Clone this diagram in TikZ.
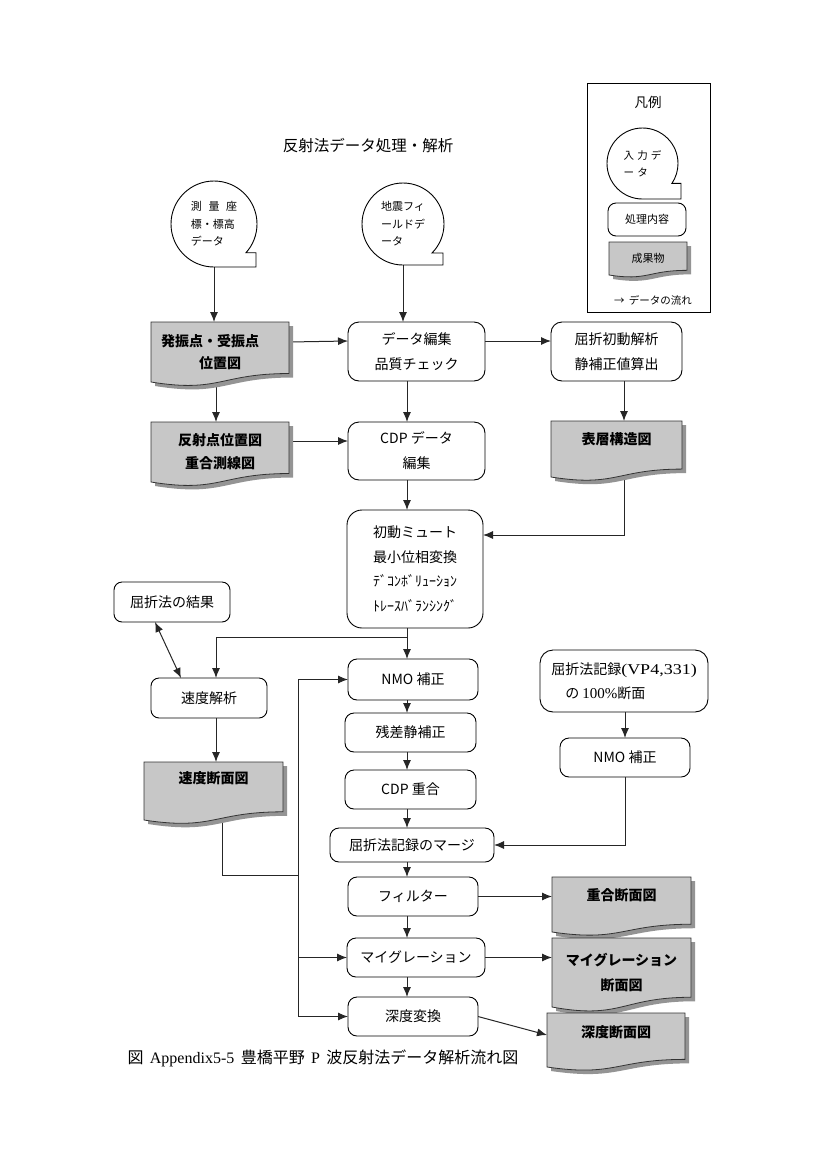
\documentclass[tikz,border=0pt]{standalone}
\usepackage{fontspec}
\usepackage{graphicx}
\setmainfont{Noto Sans CJK JP}
\newfontfamily\serifla{Liberation Serif}
\usetikzlibrary{arrows.meta,calc}
\pgfdeclarelayer{conn}
\pgfdeclarelayer{docs}
\pgfsetlayers{conn,docs,main}
\newcommand\fsz[2]{\fontsize{#1}{#2}\selectfont}
\newcommand\docpath[1]{(#1.north west) -- (#1.north east) -- ($(#1.north east)!0.8587!(#1.south east)$) .. controls ($(#1.north)!0.8587!(#1.south)$) and ($(#1.north)!1.1852!(#1.south)$) .. (#1.south west) -- cycle}
\newcommand\docshape[1]{%
  \fill[docshadow, transform canvas={shift={(4pt,-4pt)}}] \docpath{#1};
  \filldraw[docfill] \docpath{#1};}
% name, radius, angle, tail extension
\newcommand\tape[4]{%
  \draw[shapeline] (#1.south) arc[start angle=270, end angle=-#3, radius=#2pt] -- ++({(#4-#2*cos(#3))*1pt},0) |- (#1.south) -- cycle;}
\begin{document}
\begin{tikzpicture}[x=1pt,y=-1pt,
  shapeline/.style={draw=black, line width=0.9pt},
  proc/.style={draw=black, line width=0.9pt, fill=white, rounded corners=11pt, align=center, inner sep=0pt, outer sep=0pt, font=\fsz{14}{25}},
  docn/.style={align=center, inner sep=0pt, outer sep=0pt, font=\fsz{14}{23}\bfseries},
  docfill/.style={fill=black!22, draw=black!80, line width=0.8pt},
  docshadow/.style={fill=black!42},
  circ/.style={circle, inner sep=0pt, outer sep=0pt, align=left, font=\fsz{11}{17.5}},
  arr/.style={-{Latex[length=10pt,width=8pt]}, line width=1pt, draw=black!85},
  dblarr/.style={{Latex[length=10pt,width=8pt]}-{Latex[length=10pt,width=8pt]}, line width=1pt, draw=black!85},
  plainline/.style={line width=1pt, draw=black!85}]
\begin{pgfonlayer}{conn}
\fill[white] (0,0) rectangle (819,1170);
\end{pgfonlayer}
\useasboundingbox (0,0) rectangle (819,1170);

% title and caption
\node[font=\fsz{15.5}{18}] (title) at (368,146) {反射法データ処理・解析};
\node[font=\fsz{16}{18}] (cap) at (323,1058) {図\hspace{0.4em}{\serifla Appendix5-5}\hspace{0.4em}豊橋平野\hspace{0.4em}{\serifla P}\hspace{0.4em}波反射法データ解析流れ図};

% legend
\node[draw=black, line width=0.8pt, minimum width=123pt, minimum height=229pt, inner sep=0pt] (leg) at (648.5,197.5) {};
\node[font=\fsz{13.5}{16}] (legt) at (648,102) {凡例};
\node[circ, minimum size=71pt, font=\fsz{10.5}{17}] (legin) at (642.5,163.5) {入\hspace{0.3em}力\hspace{0.3em}デ\\ー\hspace{0.3em}タ};
\node[proc, rounded corners=8pt, minimum width=78pt, minimum height=33pt, font=\fsz{11}{14}] (legp) at (647,219.5) {処理内容};
\node[docn, minimum width=78pt, minimum height=33pt, font=\fsz{11}{14}] (legd) at (648,258.5) {成果物};
\node[font=\fsz{10.5}{14}] (legf) at (653,300) {→\hspace{0.4em}データの流れ};

% inputs
\node[circ, minimum size=86pt] (in1) at (214,224) {測\hspace{0.6em}量\hspace{0.6em}座\\標・標高\\データ};
\node[circ, minimum size=82pt] (in2) at (403,224) {地震フィ\\ールドデ\\ータ};

% products
\node[docn, minimum width=138pt, minimum height=60pt, font=\fsz{14}{22}\bfseries] (hs) at (220,352) {発振点・受振点\hspace*{1.4em}\\位置図};
\node[docn, minimum width=138pt, minimum height=60pt] (refl) at (220,452) {反射点位置図\\重合測線図};
\node[docn, minimum width=131pt, minimum height=56pt, text depth=21.7pt] (hyoso) at (616.5,449) {表層構造図};
\node[docn, minimum width=139pt, minimum height=58pt, text depth=27.7pt] (vsec) at (213.5,791) {速度断面図};
\node[docn, minimum width=139pt, minimum height=55pt, text depth=20.7pt] (stsec) at (621.5,904.5) {重合断面図};
\node[docn, minimum width=139pt, minimum height=69pt, font=\fsz{14}{25}\bfseries] (migsec) at (621.5,972.5) {マイグレーション\\断面図};
\node[docn, minimum width=138pt, minimum height=54pt, text depth=17.7pt] (dsec) at (616,1040) {深度断面図};

% processes
\node[proc, minimum width=137pt, minimum height=59pt] (edit) at (416.5,351.5) {データ編集\\品質チェック};
\node[proc, minimum width=131pt, minimum height=59pt] (refr) at (616.5,351.5) {屈折初動解析\\静補正値算出};
\node[proc, minimum width=137pt, minimum height=58pt] (cdp) at (416.5,451) {CDP データ\\編集};
\node[proc, rounded corners=15pt, minimum width=136pt, minimum height=118pt, font=\fsz{14}{24.5}] (mute) at (415,569) {初動ミュート\\最小位相変換\\ﾃﾞｺﾝﾎﾞﾘｭｰｼｮﾝ\\ﾄﾚｰｽﾊﾞﾗﾝｼﾝｸﾞ};
\node[proc, rounded corners=8pt, minimum width=116pt, minimum height=40pt] (kekka) at (172,602) {屈折法の結果};
\node[proc, rounded corners=8pt, minimum width=116pt, minimum height=40pt] (vel) at (209,698) {速度解析};
\node[proc, rounded corners=9pt, minimum width=130pt, minimum height=41pt] (nmo) at (413,679.5) {NMO 補正};
\node[proc, rounded corners=9pt, minimum width=131pt, minimum height=39pt] (resid) at (410.5,732.5) {残差静補正};
\node[proc, rounded corners=9pt, minimum width=131pt, minimum height=39pt] (stack) at (410.5,789.5) {CDP 重合};
\node[proc, rounded corners=9pt, minimum width=164pt, minimum height=34pt] (merge) at (412,845) {屈折法記録のマージ};
\node[proc, rounded corners=9pt, minimum width=130pt, minimum height=39pt] (filt) at (413,896.5) {フィルター};
\node[proc, rounded corners=9pt, minimum width=138pt, minimum height=39pt] (mig) at (416,957.5) {マイグレーション};
\node[proc, rounded corners=9pt, minimum width=130pt, minimum height=39pt] (depth) at (413,1016.5) {深度変換};
\node[proc, rounded corners=13pt, minimum width=168pt, minimum height=62pt, align=left, font=\fsz{14}{24}] (rec) at (624,681) {屈折法記録{\serifla\fontsize{15}{24}\selectfont\scalebox{1.2}[1]{(VP4,331)}}\\\hspace*{1em}の {\serifla\fontsize{15}{24}\selectfont 100\%}断面};
\node[proc, rounded corners=9pt, minimum width=130pt, minimum height=39pt] (nmo2) at (625,757.5) {NMO 補正};

% spine coordinates
\coordinate (lsp) at (216,0);
\coordinate (msp) at (407,0);
\coordinate (rsp) at (624,0);
\coordinate (vx) at (298,0);
\coordinate (br) at ($(mute.south -| msp)+(0,9)$);
\coordinate (jn) at (298,875);

\begin{pgfonlayer}{conn}
\draw[arr] (in1.south) -- (in1.south |- hs.north);
\draw[arr] (in2.south) -- (in2.south |- edit.north);
\draw[arr] ([yshift=10pt]hs.east) -- ([yshift=10.5pt]edit.west);
\draw[arr] ([yshift=10.5pt]edit.east) -- ([yshift=10.5pt]refr.west);
\draw[arr] (hs.south -| lsp) -- (refl.north -| lsp);
\draw[arr] ([yshift=11pt]refl.east) -- ([yshift=10pt]cdp.west);
\draw[arr] (edit.south -| msp) -- (cdp.north -| msp);
\draw[arr] (refr.south -| rsp) -- (hyoso.north -| rsp);
\draw[arr] (hyoso.south -| rsp) |- ([yshift=34pt]mute.east);
\draw[arr] (cdp.south -| msp) -- (mute.north -| msp);
\draw[arr] (mute.south -| msp) -- (nmo.north -| msp);
\draw[arr] (br) -| (vel.north -| lsp);
\draw[dblarr] ([xshift=-17pt]kekka.south) -- ([xshift=-28pt]vel.north);
\draw[arr] (vel.south -| lsp) -- (vsec.north -| lsp);
\draw[plainline] ([xshift=8.5pt]vsec.south) |- (jn);
\draw[arr] (depth.west -| vx) |- (nmo.west);
\draw[arr] (mig.west -| vx) -- (mig.west);
\draw[arr] (depth.west -| vx) -- (depth.west);
\draw[arr] (nmo.south -| msp) -- (resid.north -| msp);
\draw[arr] (resid.south -| msp) -- (stack.north -| msp);
\draw[arr] (stack.south -| msp) -- (merge.north -| msp);
\draw[arr] (merge.south -| msp) -- (filt.north -| msp);
\draw[arr] (filt.south -| msp) -- (mig.north -| msp);
\draw[arr] (mig.south -| msp) -- (depth.north -| msp);
\draw[arr] (rec.south -| nmo2.north) -- (nmo2.north);
\draw[arr] (nmo2.south) |- (merge.east);
\draw[arr] (filt.east) -- (filt.east -| stsec.west);
\draw[arr] (mig.east) -- (mig.east -| migsec.west);
\draw[arr] (depth.east) -- ([yshift=5pt]dsec.west);
\end{pgfonlayer}

\begin{pgfonlayer}{docs}
\foreach \n in {hs,refl,hyoso,vsec,stsec,migsec,dsec,legd} {\docshape{\n}}
\tape{in1}{43}{42}{42}
\tape{in2}{41}{45}{40}
\tape{legin}{35.5}{34}{38.5}
\end{pgfonlayer}
\end{tikzpicture}
\end{document}
